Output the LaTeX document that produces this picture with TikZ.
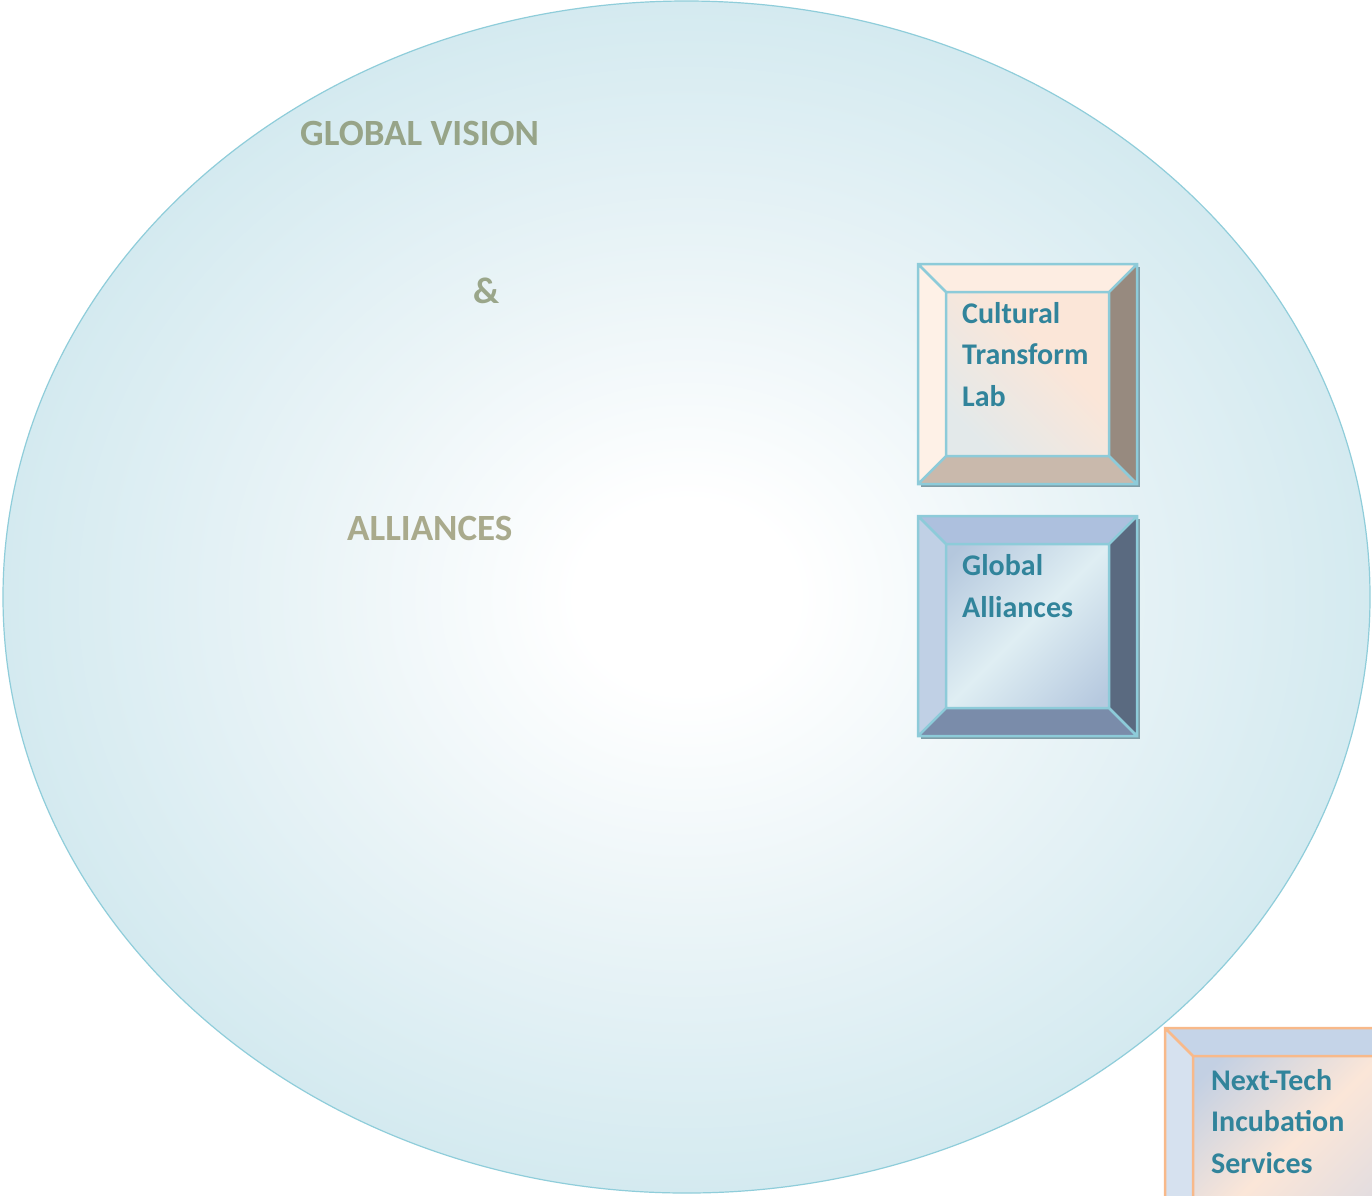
\documentclass[tikz,border=0pt]{standalone}
\usepackage{fontspec}
\setmainfont{Carlito}
\definecolor{ellout}{HTML}{D4EAF0}
\definecolor{ellmid}{HTML}{EAF4F7}
\definecolor{ellline}{HTML}{8FCDDA}
\definecolor{boxtext}{HTML}{31849B}
\definecolor{gvcol}{HTML}{97A488}
\definecolor{ampcol}{HTML}{9AA68A}
\definecolor{alcol}{HTML}{A9AA8C}
\definecolor{blueline}{HTML}{8DCBD9}
\definecolor{orangeline}{HTML}{F8B98A}
\definecolor{shadowcol}{HTML}{7F9DA7}
\definecolor{cinA}{HTML}{E3E9EA}
\definecolor{cinB}{HTML}{FBE6D8}
\definecolor{ginA}{HTML}{B4C7DD}
\definecolor{ginB}{HTML}{DFEEF3}
\definecolor{ginC}{HTML}{B6C9DF}
\definecolor{ninA}{HTML}{C3D0E3}
\definecolor{ninB}{HTML}{FBE6D8}
\definecolor{ninC}{HTML}{DEDBE1}
\pgfdeclareradialshading{ellshade}{\pgfpoint{0bp}{0bp}}{color(0bp)=(white); color(4bp)=(white); color(14bp)=(ellmid); color(25bp)=(ellout); color(50bp)=(ellout)}
\pgfdeclarehorizontalshading{cinshade}{100bp}{color(0bp)=(cinA); color(25bp)=(cinA); color(60bp)=(cinB); color(100bp)=(cinB)}
\pgfdeclarehorizontalshading{ginshade}{100bp}{color(0bp)=(ginA); color(18bp)=(ginA); color(50bp)=(ginB); color(82bp)=(ginC); color(100bp)=(ginC)}
\pgfdeclarehorizontalshading{ninshade}{100bp}{color(0bp)=(ninA); color(20bp)=(ninA); color(50bp)=(ninB); color(80bp)=(ninC); color(100bp)=(ninC)}
\newcommand{\bvbox}[6]{%
  \fill[#6shadow] ({#1+3},{#2+3}) rectangle ({#3+3},{#4+3});
  \fill[#6top] (#1,#2) -- (#3,#2) -- ({#3-#5},{#2+#5}) -- ({#1+#5},{#2+#5}) -- cycle;
  \fill[#6left] (#1,#2) -- ({#1+#5},{#2+#5}) -- ({#1+#5},{#4-#5}) -- (#1,#4) -- cycle;
  \fill[#6right] (#3,#2) -- (#3,#4) -- ({#3-#5},{#4-#5}) -- ({#3-#5},{#2+#5}) -- cycle;
  \fill[#6bot] (#1,#4) -- (#3,#4) -- ({#3-#5},{#4-#5}) -- ({#1+#5},{#4-#5}) -- cycle;
  \path[#6in] ({#1+#5},{#2+#5}) rectangle ({#3-#5},{#4-#5});
  \draw[#6line] (#1,#2) rectangle (#3,#4) ({#1+#5},{#2+#5}) rectangle ({#3-#5},{#4-#5})
    (#1,#2) -- ({#1+#5},{#2+#5}) (#3,#2) -- ({#3-#5},{#2+#5})
    (#3,#4) -- ({#3-#5},{#4-#5}) (#1,#4) -- ({#1+#5},{#4-#5});
}
\begin{document}
\begin{tikzpicture}[x=1pt,y=-1pt,
  bigtxt/.style={font=\fontsize{37}{40}\selectfont\bfseries, inner sep=0pt, anchor=base west},
  boxtxt/.style={font=\fontsize{30}{41.5}\selectfont\bfseries, text=boxtext, inner sep=0pt, anchor=base west, align=left},
  cshadow/.style={fill=shadowcol}, cleft/.style={fill={rgb,255:red,254;green,241;blue,231}},
  ctop/.style={fill={rgb,255:red,253;green,237;blue,226}}, cright/.style={fill={rgb,255:red,151;green,138;blue,127}},
  cbot/.style={fill={rgb,255:red,201;green,185;blue,172}}, cin/.style={shading=cinshade, shading angle=45},
  cline/.style={draw=blueline, line width=2.5pt, line join=miter},
  gshadow/.style={fill=shadowcol}, gtop/.style={fill={rgb,255:red,173;green,192;blue,222}},
  gleft/.style={fill={rgb,255:red,192;green,208;blue,229}}, gright/.style={fill={rgb,255:red,90;green,106;blue,128}},
  gbot/.style={fill={rgb,255:red,122;green,140;blue,170}}, gin/.style={shading=ginshade, shading angle=-45},
  gline/.style={draw=blueline, line width=2.5pt, line join=miter},
  nshadow/.style={fill opacity=0}, ntop/.style={fill={rgb,255:red,197;green,212;blue,232}},
  nleft/.style={fill={rgb,255:red,214;green,225;blue,239}}, nright/.style={fill={rgb,255:red,150;green,160;blue,180}},
  nbot/.style={fill={rgb,255:red,170;green,180;blue,200}}, nin/.style={shading=ninshade, shading angle=-45},
  nline/.style={draw=orangeline, line width=2.5pt, line join=miter}]
\clip (0,0) rectangle (1372,1195);
\fill[white] (0,0) rectangle (1372,1195);
\path[shading=ellshade, draw=ellline, line width=1.2pt] (686.5,597) ellipse [x radius=683.5, y radius=596];
\node[bigtxt, text=gvcol] (gv) at (300,145) {GLOBAL VISION};
\node[bigtxt, text=ampcol] (amp) at (473,303) {\&};
\node[bigtxt, text=alcol] (al) at (347,540) {ALLIANCES};
\bvbox{918}{264}{1137}{484}{28}{c}
\bvbox{918}{516}{1137}{736}{28}{g}
\bvbox{1165}{1028}{1430}{1250}{28}{n}
\node[boxtxt] (ctl) at (962,406) {Cultural\\Transform\\Lab};
\node[boxtxt] (gal) at (962,617) {Global\\Alliances};
\node[boxtxt] (nti) at (1211,1173) {Next-Tech\\Incubation\\Services};
\end{tikzpicture}
\end{document}
